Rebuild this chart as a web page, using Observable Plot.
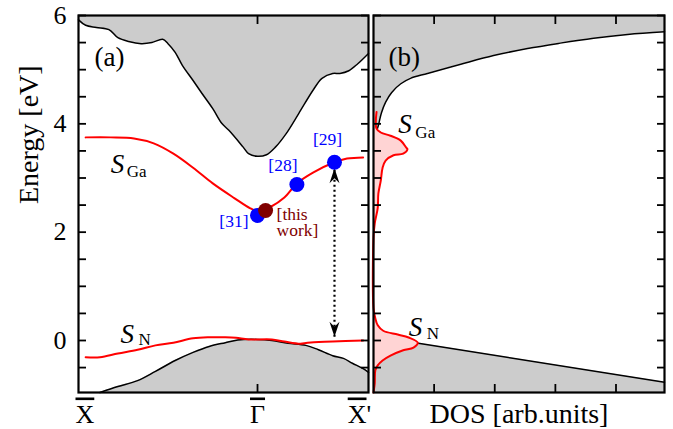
<!DOCTYPE html>
<html><head><meta charset="utf-8">
<script src="https://cdn.jsdelivr.net/npm/d3@7"></script>
<script src="https://cdn.jsdelivr.net/npm/@observablehq/plot@0.6"></script>
<style>
body{margin:0;background:#fff;}
#wrap{position:relative;width:673px;height:429px;overflow:hidden;}
#wrap svg{position:absolute;top:0;}
</style></head><body><div id="wrap"></div>
<script>
// ---------- data (k: X̄ = -1, Γ̄ = 0, X̄' = 0.62 ; energies in eV) ----------
const kTickLabels = ["X", "\u0393", "X"];
const kTickValues = [-1, 0, 0.62];
const yTicks = [-0.5, 0, 0.5, 1, 1.5, 2, 2.5, 3, 3.5, 4, 4.5, 5, 5.5, 6];
const yTickLabels = [0, 2, 4, 6];
const dosTicks = [1, 2, 3, 4];

// projected bulk conduction band edge
const conductionEdge = [[-1.00,5.92],[-0.96,5.82],[-0.90,5.78],[-0.83,5.74],[-0.78,5.59],[-0.72,5.52],[-0.65,5.48],[-0.59,5.50],[-0.53,5.56],[-0.50,5.48],[-0.46,5.32],[-0.42,5.08],[-0.36,4.80],[-0.31,4.56],[-0.25,4.28],[-0.20,4.01],[-0.16,3.88],[-0.08,3.57],[-0.05,3.45],[0.00,3.40],[0.05,3.43],[0.10,3.57],[0.16,3.82],[0.23,4.19],[0.31,4.62],[0.36,4.84],[0.42,4.93],[0.46,4.93],[0.51,4.98],[0.56,5.11],[0.62,5.30]];
// projected bulk valence band edge
const valenceEdge = [[-0.88,-0.96],[-0.78,-0.85],[-0.67,-0.74],[-0.57,-0.57],[-0.46,-0.37],[-0.36,-0.22],[-0.27,-0.11],[-0.18,-0.04],[-0.11,0.01],[0.00,0.02],[0.08,0.00],[0.17,-0.05],[0.27,-0.09],[0.34,-0.17],[0.42,-0.28],[0.48,-0.33],[0.53,-0.42],[0.59,-0.52],[0.62,-0.59]];
// surface states
const stateGa = [[-0.96,3.75],[-0.82,3.75],[-0.69,3.73],[-0.58,3.64],[-0.47,3.45],[-0.36,3.19],[-0.25,2.90],[-0.13,2.63],[-0.04,2.44],[0.01,2.38],[0.07,2.46],[0.15,2.64],[0.22,2.90],[0.31,3.10],[0.43,3.29],[0.50,3.36],[0.59,3.38]];
const stateN = [[-0.96,-0.31],[-0.88,-0.31],[-0.78,-0.24],[-0.67,-0.17],[-0.57,-0.09],[-0.47,-0.04],[-0.36,0.04],[-0.27,0.06],[-0.18,0.06],[-0.12,0.05],[-0.05,0.02],[0.08,0.02],[0.15,-0.02],[0.24,-0.06],[0.28,-0.04],[0.42,-0.02],[0.59,0.00]];
// literature points
const refNames = ["[31]", "[28]", "[29]"];
const refK = [0.00, 0.22, 0.43];
const refE = [2.31, 2.88, 3.29];
const thisWorkK = [0.045];
const thisWorkE = [2.40];
// gap arrow (k, lower E, upper E)
const gapK = [0.43];
const gapLow = [0.07];
const gapHigh = [3.18];

// DOS panel (x in arb. units, E in eV)
const dosConduction = [[0.03,3.80],[0.08,3.97],[0.13,4.20],[0.20,4.40],[0.30,4.58],[0.45,4.74],[0.61,4.84],[0.89,4.93],[1.44,5.10],[1.98,5.26],[2.54,5.39],[3.08,5.49],[3.63,5.58],[4.19,5.65],[4.80,5.70]];
const dosValence = [[0.74,-0.05],[4.80,-0.77]];
const dosSurface = [[0.05,4.22],[0.05,3.91],[0.12,3.84],[0.28,3.78],[0.45,3.69],[0.54,3.56],[0.56,3.53],[0.49,3.45],[0.33,3.42],[0.20,3.32],[0.15,3.19],[0.12,2.95],[0.08,2.71],[0.07,2.45],[0.02,2.16],[0.00,1.90],[0.00,0.60],[0.03,0.41],[0.07,0.28],[0.16,0.18],[0.40,0.11],[0.58,0.055],[0.73,-0.04],[0.66,-0.13],[0.49,-0.18],[0.28,-0.28],[0.15,-0.37],[0.07,-0.46],[0.03,-0.55],[0.02,-0.79],[0.00,-0.96]];

// ---------- build ----------
const EMIN = -0.96, EMAX = 6;
const DOSMAX = 4.8;
const FONT = "'Liberation Serif', 'Times New Roman', serif";
const GRAY = "#cccccc", RED = "#ff0000", PINK = "#ffd4d4", BLUE = "#0000ff", MAROON = "#800000";
const X = d => d[0], Y = d => d[1];
const refs = refNames.map((name, i) => ({name, k: refK[i], e: refE[i]}));
const thisWork = thisWorkK.map((k, i) => ({k, e: thisWorkE[i]}));
const gap = gapK.map((k, i) => ({k, lo: gapLow[i], hi: gapHigh[i]}));
const kLabels = kTickLabels.map((t, i) => ({t, k: kTickValues[i]}));

const arrowHead = {draw(ctx) { ctx.moveTo(0, 0); ctx.lineTo(5, 15); ctx.lineTo(0, 10); ctx.lineTo(-5, 15); ctx.closePath(); }};
const txt = (s, x, y, o) => Plot.text([{x, y}], {x: "x", y: "y", text: () => s, ...o});
const sub = (main, subText, x, y, dx, dy) => [
  txt(main, x, y, {fontSize: 27, fontStyle: "italic", textAnchor: "start", lineAnchor: "bottom"}),
  txt(subText, x, y, {fontSize: 17, textAnchor: "start", lineAnchor: "bottom", dx, dy})
];
const kText = (filter, o) => Plot.text(kLabels.filter(filter), {x: "k", text: "t", frameAnchor: "bottom", lineAnchor: "bottom", dy: 30, fontSize: 26, ...o});

const plotA = Plot.plot({
  width: 371, height: 429,
  marginLeft: 78, marginRight: 3, marginTop: 15, marginBottom: 37,
  x: {domain: [-1, 0.62]},
  y: {domain: [EMIN, EMAX]},
  style: {fontFamily: FONT, color: "black", background: "transparent", overflow: "visible"},
  marks: [
    Plot.areaY(conductionEdge, {x: X, y1: Y, y2: EMAX, fill: GRAY, curve: "catmull-rom"}),
    Plot.areaY(valenceEdge, {x: X, y1: EMIN, y2: Y, fill: GRAY, curve: "catmull-rom"}),
    Plot.line(conductionEdge, {x: X, y: Y, stroke: "black", strokeWidth: 1.5, curve: "catmull-rom"}),
    Plot.line(valenceEdge, {x: X, y: Y, stroke: "black", strokeWidth: 1.5, curve: "catmull-rom"}),
    Plot.line(stateGa, {x: X, y: Y, stroke: RED, strokeWidth: 2, curve: "catmull-rom"}),
    Plot.line(stateN, {x: X, y: Y, stroke: RED, strokeWidth: 2, curve: "catmull-rom"}),
    Plot.link(gap, {x1: "k", x2: "k", y1: "lo", y2: "hi", stroke: "black", strokeWidth: 2.2, strokeDasharray: "2,3"}),
    Plot.dot(gap, {x: "k", y: "hi", symbol: arrowHead, fill: "black", stroke: "none"}),
    Plot.dot(gap, {x: "k", y: "lo", symbol: arrowHead, rotate: 180, fill: "black", stroke: "none"}),
    Plot.dot(refs, {x: "k", y: "e", r: 7.5, fill: BLUE, stroke: "none"}),
    Plot.dot(thisWork, {x: "k", y: "e", r: 7.5, fill: MAROON, stroke: "none"}),
    Plot.text(refs.filter(d => d.name === "[29]"), {x: "k", y: "e", text: "name", fill: BLUE, fontSize: 17.5, lineAnchor: "bottom", dx: -7, dy: -17}),
    Plot.text(refs.filter(d => d.name === "[28]"), {x: "k", y: "e", text: "name", fill: BLUE, fontSize: 17.5, lineAnchor: "bottom", dx: -14, dy: -14}),
    Plot.text(refs.filter(d => d.name === "[31]"), {x: "k", y: "e", text: "name", fill: BLUE, fontSize: 17.5, lineAnchor: "bottom", textAnchor: "end", dx: -9, dy: 12}),
    Plot.text(thisWork, {x: "k", y: "e", text: () => "[this", fill: MAROON, fontSize: 17.5, lineAnchor: "bottom", textAnchor: "start", dx: 11, dy: 9}),
    Plot.text(thisWork, {x: "k", y: "e", text: () => "work]", fill: MAROON, fontSize: 17.5, lineAnchor: "bottom", textAnchor: "start", dx: 11, dy: 25}),
    ...sub("S", "Ga", -0.82, 3.10, 16, 4),
    ...sub("S", "N", -0.765, -0.04, 18, 2),
    Plot.text(["(a)"], {text: d => d, frameAnchor: "top-left", textAnchor: "start", lineAnchor: "bottom", dx: 16, dy: 50, fontSize: 27}),
    kText(d => d.k === -1, {textAnchor: "start", dx: -3}),
    kText(d => d.k === 0, {textAnchor: "middle"}),
    kText(d => d.k > 0, {textAnchor: "end", dx: -2}),
    Plot.text(kLabels.filter(d => d.k > 0), {x: "k", text: () => "'", frameAnchor: "bottom", lineAnchor: "bottom", dy: 30, fontSize: 26, textAnchor: "start", dx: -2}),
    Plot.text(["Energy [eV]"], {text: d => d, frameAnchor: "left", rotate: -90, dx: -49, fontSize: 28}),
    Plot.axisY({anchor: "left", ticks: yTicks, tickSize: -8, strokeWidth: 1.8, text: null, label: null}),
    Plot.axisY({anchor: "right", ticks: yTicks, tickSize: -8, strokeWidth: 1.8, text: null, label: null}),
    Plot.axisY({anchor: "left", ticks: yTickLabels, tickSize: 0, tickPadding: 12, tickFormat: d => String(d), fontSize: 26, label: null}),
    Plot.axisX({anchor: "top", ticks: [0], tickSize: -8, strokeWidth: 1.8, text: null, label: null}),
    Plot.axisX({anchor: "bottom", ticks: [0], tickSize: -8, strokeWidth: 1.8, text: null, label: null}),
    Plot.frame({stroke: "black", strokeWidth: 2.2})
  ]
});

// overbars on the high-symmetry point letters
plotA.querySelectorAll("text").forEach(t => {
  const s = t.textContent;
  if (s === "X" || s === "\u0393") t.setAttribute("text-decoration", "overline");
});

const plotB = Plot.plot({
  width: 302, height: 429,
  marginLeft: 2, marginRight: 9, marginTop: 15, marginBottom: 37,
  x: {domain: [0, DOSMAX]},
  y: {domain: [EMIN, EMAX]},
  style: {fontFamily: FONT, color: "black", background: "transparent", overflow: "visible"},
  marks: [
    Plot.areaX([...dosConduction, [DOSMAX, EMAX]], {y: Y, x1: 0, x2: X, fill: GRAY}),
    Plot.areaX([...dosValence, [DOSMAX, EMIN]], {y: Y, x1: 0, x2: X, fill: GRAY}),
    Plot.line(dosConduction, {x: X, y: Y, stroke: "black", strokeWidth: 1.5, curve: "catmull-rom"}),
    Plot.line(dosValence, {x: X, y: Y, stroke: "black", strokeWidth: 1.5}),
    Plot.areaX(dosSurface, {y: Y, x1: 0, x2: X, fill: PINK, curve: "catmull-rom"}),
    Plot.line(dosSurface, {x: X, y: Y, stroke: RED, strokeWidth: 2, curve: "catmull-rom"}),
    ...sub("S", "Ga", 0.41, 3.84, 17, 5),
    ...sub("S", "N", 0.58, 0.09, 18, 3),
    Plot.text(["(b)"], {text: d => d, frameAnchor: "top-left", textAnchor: "start", lineAnchor: "bottom", dx: 15, dy: 50, fontSize: 27}),
    Plot.text(["DOS [arb.units]"], {text: d => d, frameAnchor: "bottom", lineAnchor: "bottom", dy: 30, fontSize: 28}),
    Plot.axisY({anchor: "left", ticks: yTicks, tickSize: -8, strokeWidth: 1.8, text: null, label: null}),
    Plot.axisY({anchor: "right", ticks: yTicks, tickSize: -8, strokeWidth: 1.8, text: null, label: null}),
    Plot.axisX({anchor: "top", ticks: dosTicks, tickSize: -8, strokeWidth: 1.8, text: null, label: null}),
    Plot.axisX({anchor: "bottom", ticks: dosTicks, tickSize: -8, strokeWidth: 1.8, text: null, label: null}),
    Plot.frame({stroke: "black", strokeWidth: 2.2})
  ]
});

plotA.style.left = "0px";
plotB.style.left = "371px";
document.getElementById("wrap").append(plotA, plotB);
</script></body></html>
